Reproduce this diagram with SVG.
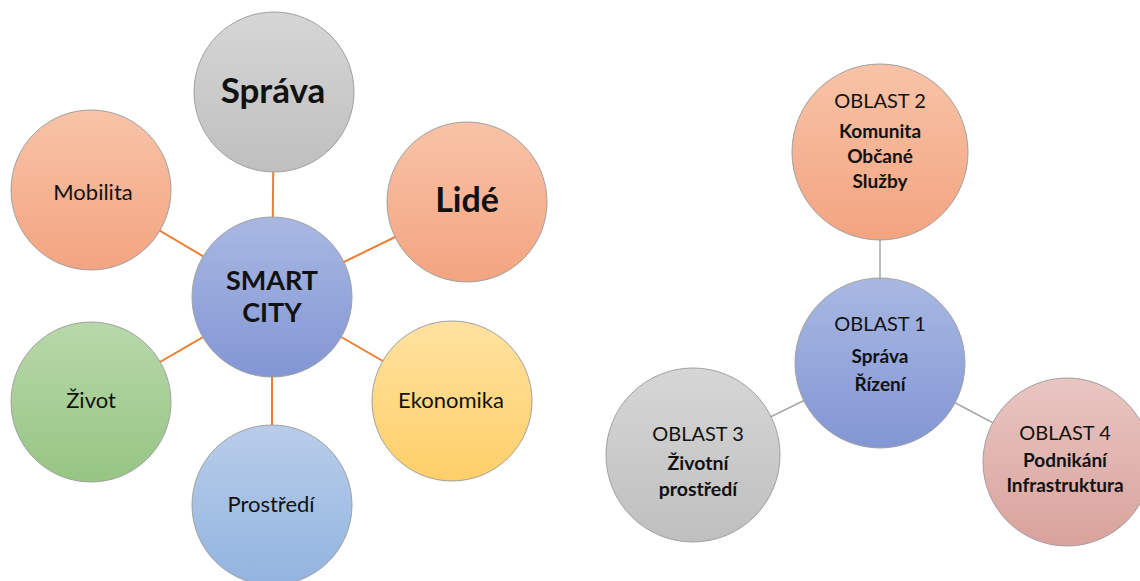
<svg xmlns="http://www.w3.org/2000/svg" width="1140" height="581" viewBox="0 0 1140 581">
<defs>
<linearGradient id="gGray" x1="0" y1="0" x2="0" y2="1"><stop offset="0" stop-color="#d6d6d6"/><stop offset="1" stop-color="#bfbfbf"/></linearGradient>
<linearGradient id="gOrange" x1="0" y1="0" x2="0" y2="1"><stop offset="0" stop-color="#f8c3a7"/><stop offset="1" stop-color="#f3a480"/></linearGradient>
<linearGradient id="gBlue" x1="0" y1="0" x2="0" y2="1"><stop offset="0" stop-color="#a9b8e2"/><stop offset="1" stop-color="#8296d4"/></linearGradient>
<linearGradient id="gYellow" x1="0" y1="0" x2="0" y2="1"><stop offset="0" stop-color="#ffe2a0"/><stop offset="1" stop-color="#ffcf68"/></linearGradient>
<linearGradient id="gGreen" x1="0" y1="0" x2="0" y2="1"><stop offset="0" stop-color="#b8d8aa"/><stop offset="1" stop-color="#96c583"/></linearGradient>
<linearGradient id="gLBlue" x1="0" y1="0" x2="0" y2="1"><stop offset="0" stop-color="#b8cdea"/><stop offset="1" stop-color="#92b4df"/></linearGradient>
<linearGradient id="gPink" x1="0" y1="0" x2="0" y2="1"><stop offset="0" stop-color="#e9c6c2"/><stop offset="1" stop-color="#d9a29c"/></linearGradient>
</defs>
<style>
.c{stroke:#a0a0a0;stroke-width:1}
.t{font-family:Lato,"Liberation Sans",sans-serif;fill:#111111;text-anchor:middle}
.b{font-weight:bold}
.lo{stroke:#ED7D31;stroke-width:2}
.lg{stroke:#a5a5a5;stroke-width:1.5}
</style>
<g id="connectors">
<line class="lo" x1="272" y1="297" x2="274" y2="92"/>
<line class="lo" x1="272" y1="297" x2="91" y2="190"/>
<line class="lo" x1="272" y1="297" x2="467" y2="202"/>
<line class="lo" x1="272" y1="297" x2="91" y2="402"/>
<line class="lo" x1="272" y1="297" x2="452" y2="401"/>
<line class="lo" x1="272" y1="297" x2="272" y2="505"/>
<line class="lg" x1="880" y1="363" x2="880" y2="152"/>
<line class="lg" x1="880" y1="363" x2="693" y2="455"/>
<line class="lg" x1="880" y1="363" x2="1067" y2="462"/>
</g>
<g id="sprava"><circle class="c" cx="274" cy="92" r="80" fill="url(#gGray)"/><text class="t b" x="273" y="103" font-size="35">Správa</text></g>
<g id="mobilita"><circle class="c" cx="91" cy="190" r="80" fill="url(#gOrange)"/><text class="t" x="93" y="200" font-size="22">Mobilita</text></g>
<g id="lide"><circle class="c" cx="467" cy="202" r="80" fill="url(#gOrange)"/><text class="t b" x="467" y="212" font-size="34">Lidé</text></g>
<g id="smartcity"><circle class="c" cx="272" cy="297" r="80" fill="url(#gBlue)"/><text class="t b" x="272" y="290" font-size="27">SMART</text><text class="t b" x="272" y="322" font-size="27">CITY</text></g>
<g id="zivot"><circle class="c" cx="91" cy="402" r="80" fill="url(#gGreen)"/><text class="t" x="91" y="408" font-size="22">Život</text></g>
<g id="ekonomika"><circle class="c" cx="452" cy="401" r="80" fill="url(#gYellow)"/><text class="t" x="451" y="408" font-size="22">Ekonomika</text></g>
<g id="prostredi"><circle class="c" cx="272" cy="505" r="80" fill="url(#gLBlue)"/><text class="t" x="271" y="512" font-size="22">Prostředí</text></g>
<g id="oblast2"><circle class="c" cx="880" cy="152" r="88" fill="url(#gOrange)"/><text class="t" x="880" y="108" font-size="20">OBLAST 2</text><text class="t b" x="880" y="138" font-size="19">Komunita</text><text class="t b" x="880" y="163" font-size="19">Občané</text><text class="t b" x="880" y="188" font-size="19">Služby</text></g>
<g id="oblast1"><circle class="c" cx="880" cy="363" r="85" fill="url(#gBlue)"/><text class="t" x="880" y="331" font-size="20">OBLAST 1</text><text class="t b" x="880" y="363" font-size="19">Správa</text><text class="t b" x="880" y="391" font-size="19">Řízení</text></g>
<g id="oblast3"><circle class="c" cx="693" cy="455" r="87" fill="url(#gGray)"/><text class="t" x="698" y="441" font-size="20">OBLAST 3</text><text class="t b" x="698" y="470" font-size="19.5">Životní</text><text class="t b" x="698" y="496" font-size="19.5">prostředí</text></g>
<g id="oblast4"><circle class="c" cx="1067" cy="462" r="84" fill="url(#gPink)"/><text class="t" x="1065" y="440" font-size="20">OBLAST 4</text><text class="t b" x="1065" y="467" font-size="19">Podnikání</text><text class="t b" x="1065" y="492" font-size="19">Infrastruktura</text></g>
</svg>
